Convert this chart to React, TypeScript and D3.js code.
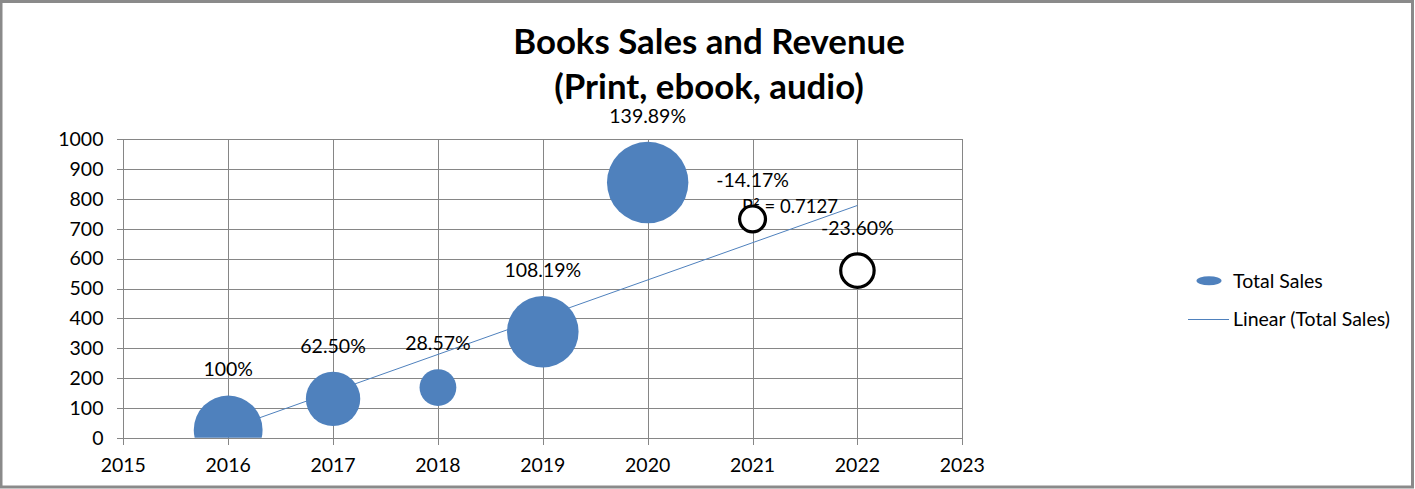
import React from "react";
import * as d3 from "d3";

const years = [2016, 2017, 2018, 2019, 2020, 2021, 2022];
const totalSales = [26, 130, 168, 355, 855, 733, 560];
const growth = [100, 62.5, 28.57, 108.19, 139.89, -14.17, -23.6];
const growthLabels = ["100%", "62.50%", "28.57%", "108.19%", "139.89%", "-14.17%", "-23.60%"];
const xTicks = [2015, 2016, 2017, 2018, 2019, 2020, 2021, 2022, 2023];
const yTicks = [0, 100, 200, 300, 400, 500, 600, 700, 800, 900, 1000];
const titleLines = ["Books Sales and Revenue", "(Print, ebook, audio)"];
const r2Label = "R² = 0.7127";
const legendLabels = ["Total Sales", "Linear (Total Sales)"];

const W = 1415;
const H = 489;
const BLUE = "#4F81BD";
const GRID = "#868686";
const FONT = "Lato, 'Open Sans', sans-serif";
const FS = 19.5;

export default function App() {
  const x = d3.scaleLinear().domain([2015, 2023]).range([123.3, 962.3]);
  const y = d3.scaleLinear().domain([0, 1000]).range([437.7, 139.3]);
  const r = d3.scaleSqrt().domain([0, 139.89]).range([0, 40.7]);

  // linear regression for trend line
  const mx = d3.mean(years) as number;
  const my = d3.mean(totalSales) as number;
  let sxy = 0, sxx = 0;
  years.forEach((yr, i) => {
    sxy += (yr - mx) * (totalSales[i] - my);
    sxx += (yr - mx) * (yr - mx);
  });
  const slope = sxy / sxx;
  const icpt = my - slope * mx;
  const xMin = d3.min(years) as number;
  const xMax = d3.max(years) as number;
  const trend = d3.line<number>().x((d) => x(d)).y((d) => y(icpt + slope * d))([xMin, xMax]) as string;

  const [x0, x1] = x.range();
  const [y0, y1] = y.range();

  return (
    <svg width={W} height={H} style={{ position: "absolute", left: 0, top: 0, background: "#fff" }} fontFamily={FONT}>
      <defs>
        <clipPath id="plot">
          <rect x={x0} y={y1} width={x1 - x0} height={y0 - y1} />
        </clipPath>
      </defs>
      <rect x={0} y={0} width={W} height={H} fill="#fff" />
      <rect x={1} y={1.5} width={1411.5} height={485.5} fill="none" stroke="#8a8a8a" strokeWidth={3} />

      {/* title */}
      <g fontWeight="bold" fontSize={34.8} textAnchor="middle" fill="#000">
        {titleLines.map((t, i) => (
          <text key={i} x={709} y={54 + i * 45}>{t}</text>
        ))}
      </g>

      {/* grid */}
      <g stroke={GRID} strokeWidth={1} shapeRendering="crispEdges">
        {yTicks.map((t) => (
          <line key={"h" + t} x1={x0 - 6} x2={x1} y1={Math.round(y(t)) + 0.5} y2={Math.round(y(t)) + 0.5} />
        ))}
        {xTicks.map((t) => (
          <line key={"v" + t} x1={Math.round(x(t)) + 0.5} x2={Math.round(x(t)) + 0.5} y1={y1} y2={y0 + 7} />
        ))}
      </g>

      {/* axis labels */}
      <g fontSize={FS} fill="#000">
        {yTicks.map((t) => (
          <text key={"yl" + t} x={103.5} y={y(t)} dy="0.35em" textAnchor="end">{t}</text>
        ))}
        {xTicks.map((t) => (
          <text key={"xl" + t} x={x(t)} y={465} dy="0.35em" textAnchor="middle">{t}</text>
        ))}
      </g>

      {/* trend line (behind bubbles) */}
      <path d={trend} fill="none" stroke={BLUE} strokeWidth={1} />

      {/* filled bubbles */}
      <g clipPath="url(#plot)">
        {years.map((yr, i) =>
          growth[i] > 0 ? (
            <circle key={"b" + yr} cx={x(yr)} cy={y(totalSales[i])} r={r(growth[i])} fill={BLUE} />
          ) : null
        )}
      </g>

      {/* R squared label */}
      <text x={742} y={207} dy="0.35em" fontSize={18.5} fill="#000">{r2Label}</text>

      {/* negative bubbles */}
      <g clipPath="url(#plot)">
        {years.map((yr, i) =>
          growth[i] < 0 ? (
            <circle key={"n" + yr} cx={x(yr)} cy={y(totalSales[i])} r={r(-growth[i])} fill="#fff" stroke="#000" strokeWidth={3.2} />
          ) : null
        )}
      </g>

      {/* data labels */}
      <g fontSize={FS} fill="#000" textAnchor="middle">
        {years.map((yr, i) => (
          <text key={"l" + yr} x={x(yr)} y={y(totalSales[i]) - r(Math.abs(growth[i])) - 26} dy="0.35em">
            {growthLabels[i]}
          </text>
        ))}
      </g>

      {/* legend */}
      <g fontSize={FS} fill="#000">
        <ellipse cx={1209} cy={280.7} rx={12.5} ry={4.5} fill={BLUE} />
        <text x={1233} y={280.7} dy="0.35em">{legendLabels[0]}</text>
        <line x1={1188} x2={1229} y1={319.5} y2={319.5} stroke={BLUE} strokeWidth={1} />
        <text x={1233} y={319} dy="0.35em">{legendLabels[1]}</text>
      </g>
    </svg>
  );
}
